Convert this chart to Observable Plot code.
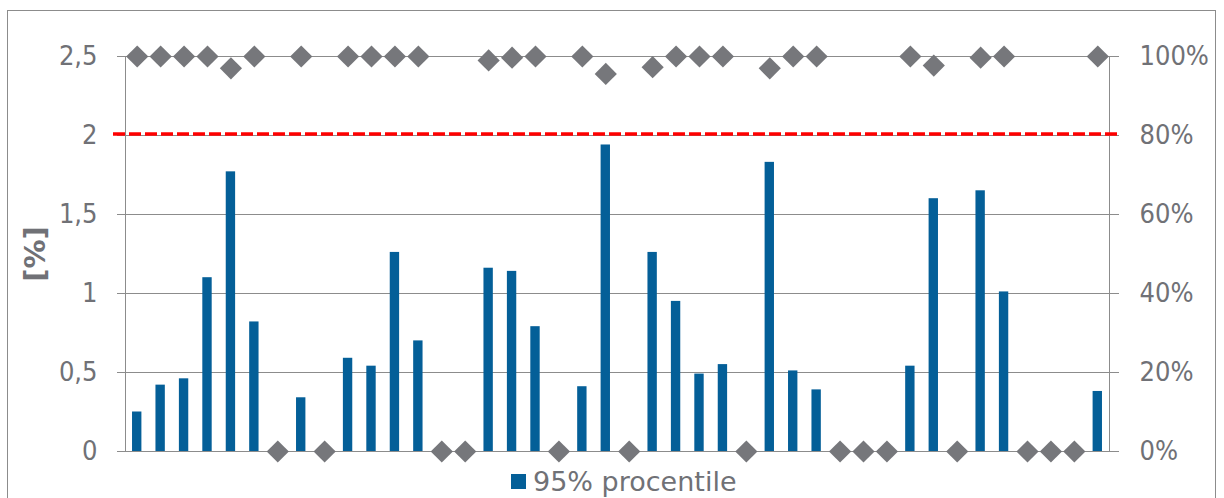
<!DOCTYPE html>
<html>
<head>
<meta charset="utf-8">
<script src="https://cdn.jsdelivr.net/npm/d3@7"></script>
<script src="https://cdn.jsdelivr.net/npm/@observablehq/plot@0.6"></script>
<style>
  html, body { margin: 0; padding: 0; background: #fff; overflow: hidden; }
  body { font-family: "DejaVu Sans", sans-serif; color: #707176; }
  #wrap { position: relative; width: 1224px; height: 498px; }
  #border { position: absolute; left: 7px; top: 10px; width: 1209px; height: 530px; border: 1px solid #8c8c8c; box-sizing: border-box; }
  #chart { position: absolute; left: 0; top: 0; }
  #legend { position: absolute; left: 511px; top: 465px; height: 32px; display: flex; align-items: center; font-size: 27px; white-space: nowrap; }
  #legend .sw { width: 15px; height: 15px; background: #045f98; margin-right: 7px; }
</style>
</head>
<body>
<div id="wrap">
  <div id="border"></div>
  <div id="chart"></div>
  <div id="legend"><span class="sw"></span><span>95% procentile</span></div>
</div>
<script>
// Measuring points, in order along the x axis
const stations = [
  "1","2","3","4","5","6","7","8","9","10","11","12","13","14",
  "15","16","17","18","19","20","21","22","23","24","25","26","27","28",
  "29","30","31","32","33","34","35","36","37","38","39","40","41","42"
];

// 95% percentile per station [%] (null = no value)
const p95 = [
  0.25, 0.42, 0.46, 1.10, 1.77, 0.82, null, 0.34, null, 0.59, 0.54, 1.26, 0.70, null,
  null, 1.16, 1.14, 0.79, null, 0.41, 1.94, null, 1.26, 0.95, 0.49, 0.55, null, 1.83,
  0.51, 0.39, null, null, null, 0.54, 1.60, null, 1.65, 1.01, null, null, null, 0.38
];

// Data coverage per station, right axis [%]
const coverage = [
  100, 100, 100, 100, 97, 100, 0, 100, 0, 100, 100, 100, 100, 0,
  0, 99, 99.7, 100, 0, 100, 95.6, 0, 97.3, 100, 100, 100, 0, 97,
  100, 100, 0, 0, 0, 100, 97.7, 0, 99.7, 100, 0, 0, 0, 100
];

// Limit value [%]
const limit = 2;

// Axis ticks
const leftTicks = [0, 0.5, 1, 1.5, 2, 2.5];
const rightMax = 100; // 100% on the right axis lines up with 2,5 on the left

const yMax = 2.5;
const rows = stations.map((s, i) => ({station: s, p95: p95[i], coverage: coverage[i]}));

const grey = "#8c8c8c";
const text = "#707176";
const tickFont = '"DejaVu Sans Condensed", "DejaVu Sans", sans-serif';

const chart = Plot.plot({
  width: 1224,
  height: 466,
  marginLeft: 125,
  marginRight: 115,
  marginTop: 56,
  marginBottom: 15,
  style: {fontFamily: tickFont, fontSize: "27px", color: text, background: "transparent", overflow: "visible"},
  x: {domain: stations, paddingInner: 0.6, paddingOuter: 0.3, round: false, axis: null},
  y: {domain: [0, yMax], axis: null},
  marks: [
    // horizontal gridlines, running through the tick marks on both sides
    Plot.ruleY(leftTicks, {stroke: grey, strokeWidth: 1, insetLeft: -8, insetRight: -10}),
    Plot.frame({stroke: grey}),
    Plot.axisY({
      anchor: "left", ticks: leftTicks, tickSize: 0, tickPadding: 28, label: null,
      fontSize: 27, fill: text,
      tickFormat: d => String(d).replace(".", ",")
    }),
    Plot.axisY({
      anchor: "right", ticks: leftTicks, tickSize: 0, tickPadding: 30, label: null,
      fontSize: 27, fill: text,
      tickFormat: d => `${Math.round(d / yMax * rightMax)}%`
    }),
    Plot.barY(rows, {x: "station", y: "p95", fill: "#045f98"}),
    // limit value
    Plot.ruleY([limit], {stroke: "#ff0000", strokeWidth: 3.5, strokeDasharray: "12,4", insetLeft: -12, insetRight: -10, dy: -1.5}),
    // coverage on the right-hand scale
    Plot.dot(rows, {
      x: "station",
      y: d => d.coverage / rightMax * yMax,
      symbol: "diamond2", r: 10, fill: "#76777b", stroke: "none"
    }),
    Plot.text(["[%]"], {
      text: d => d, frameAnchor: "left", textAnchor: "middle", dx: -90, rotate: -90,
      fontFamily: "DejaVu Sans", fontWeight: "bold", fontSize: 29, fill: text
    })
  ]
});

document.getElementById("chart").appendChild(chart);
</script>
</body>
</html>
